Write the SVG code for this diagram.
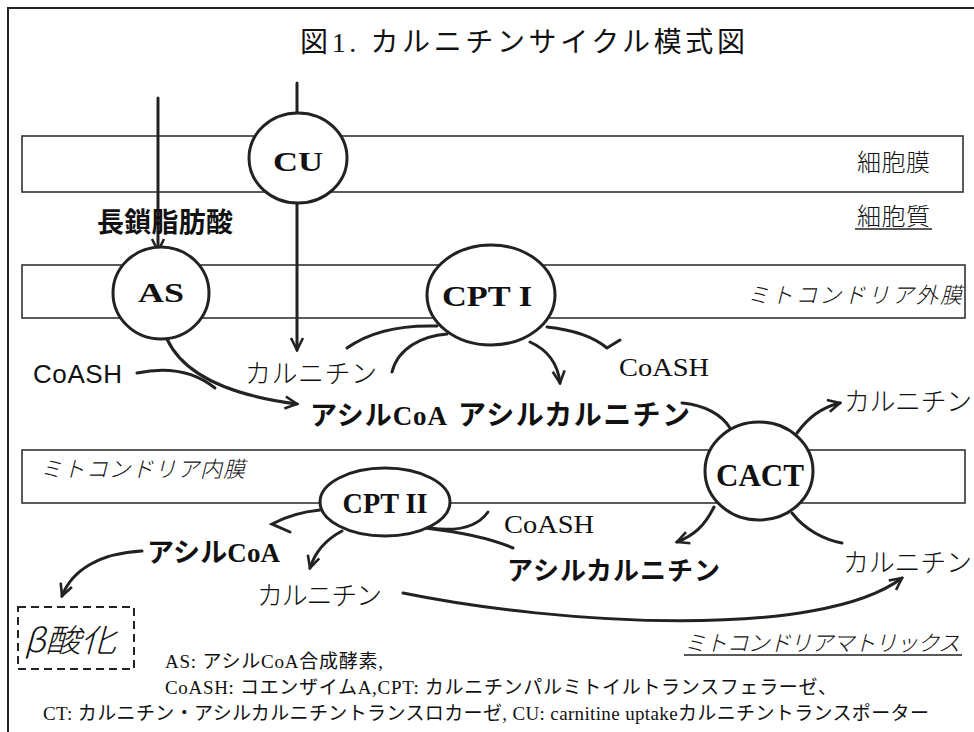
<svg xmlns="http://www.w3.org/2000/svg" width="974" height="732" viewBox="0 0 974 732">
<style>
.mem{fill:#fff;stroke:#333;stroke-width:1.6}
.node{fill:#fff;stroke:#222;stroke-width:3}
.c{fill:none;stroke:#222;stroke-width:3;stroke-linecap:round}
.ca{fill:none;stroke:#222;stroke-width:3;stroke-linecap:round;marker-end:url(#arr)}
.nl{font-family:"Liberation Serif","Noto Sans CJK JP",serif;font-weight:bold;fill:#111;text-anchor:middle}
.bs{font-family:"Liberation Serif","Noto Sans CJK JP",serif;font-weight:bold;fill:#111}
.js{font-family:"Noto Sans CJK JP",sans-serif;font-weight:300;fill:#111}
.it{font-family:"Noto Sans CJK JP",sans-serif;font-style:italic;font-weight:300;fill:#111}
.sr{font-family:"Liberation Serif","Noto Sans CJK JP",serif;fill:#111}
</style>
<defs>
<marker id="arr" viewBox="0 0 16 16" refX="14" refY="8" markerWidth="16" markerHeight="16" markerUnits="userSpaceOnUse" orient="auto">
<path d="M2,2 L14,8 L2,14" fill="none" stroke="#222" stroke-width="2.6" stroke-linejoin="miter"/>
</marker>
</defs>
<rect x="0" y="0" width="974" height="732" fill="#fff"/>
<rect x="8" y="8" width="990" height="760" fill="none" stroke="#222" stroke-width="2"/>

<g id="title"><text class="sr" x="300" y="52" font-size="28" textLength="445">図1. カルニチンサイクル模式図</text></g>

<g id="membranes">
<rect id="cell-membrane" class="mem" x="22" y="136" width="941" height="56"/>
<rect id="outer-membrane" class="mem" x="22" y="265" width="943" height="53"/>
<rect id="inner-membrane" class="mem" x="22" y="450" width="943" height="53"/>
</g>

<g id="connectors">
<path class="ca" d="M158,98 L158,251"/>
<path class="c" d="M297,83 L297,113"/>
<path class="ca" d="M297,203 L297,350"/>
<path class="ca" d="M167,339 C185,378 235,396 297,404"/>
<path class="c" d="M137,373 C170,366 195,372 215,388"/>
<path class="c" d="M347,348 C372,330 405,325 437,326"/>
<path class="c" d="M392,372 C398,348 422,336 447,334"/>
<path class="ca" d="M530,342 C548,350 558,365 560,383"/>
<path class="c" d="M547,327 C575,330 595,338 607,348 L620,340"/>
<path class="c" d="M682,403 C705,405 722,415 730,428"/>
<path class="ca" d="M797,433 C808,418 820,408 840,403"/>
<path class="ca" d="M714,507 C705,525 695,535 677,542"/>
<path class="c" d="M792,513 C805,530 825,540 842,543"/>
<path class="c" d="M320,510 C300,512 285,517 272,524 L290,532"/>
<path class="ca" d="M342,531 C325,540 315,552 310,568"/>
<path class="c" d="M430,528 C458,532 478,526 488,512"/>
<path class="c" d="M513,548 C490,538 460,532 425,528"/>
<path class="ca" d="M142,551 C100,553 72,570 62,596"/>
<path class="ca" d="M403,593 C560,625 820,640 902,578"/>
</g>

<g id="CU"><ellipse class="node" cx="298" cy="158" rx="49" ry="45"/><text class="nl" x="298" y="171" font-size="28" textLength="50" lengthAdjust="spacingAndGlyphs">CU</text></g>
<g id="AS"><ellipse class="node" cx="161" cy="293" rx="48" ry="46"/><text class="nl" x="161" y="302" font-size="28" textLength="46" lengthAdjust="spacingAndGlyphs">AS</text></g>
<g id="CPTI"><ellipse class="node" cx="491" cy="295" rx="64" ry="50"/><text class="nl" x="487" y="306" font-size="29" textLength="90" lengthAdjust="spacingAndGlyphs">CPT I</text></g>
<g id="CACT"><ellipse class="node" cx="759" cy="471" rx="54" ry="49"/><text class="nl" x="760" y="486" font-size="32" textLength="88" lengthAdjust="spacingAndGlyphs">CACT</text></g>
<g id="CPTII"><ellipse class="node" cx="385" cy="502" rx="65" ry="34"/><text class="nl" x="385" y="513" font-size="29" textLength="85" lengthAdjust="spacingAndGlyphs">CPT II</text></g>

<g id="labels">
<text class="js" x="857" y="171" font-size="24" textLength="73">細胞膜</text>
<text class="js" x="857" y="225" font-size="24" textLength="73">細胞質</text>
<line x1="855" y1="229" x2="932" y2="229" stroke="#222" stroke-width="1.6"/>
<text x="97" y="232" font-size="27" textLength="136" font-family="Noto Sans CJK JP,sans-serif" font-weight="bold" fill="#111">長鎖脂肪酸</text>
<text class="it" x="747" y="303" font-size="22" textLength="215">ミトコンドリア外膜</text>
<text class="it" x="40" y="477" font-size="22" textLength="205">ミトコンドリア内膜</text>
<text class="js" x="245" y="383" font-size="26" textLength="132">カルニチン</text>
<text x="33" y="383" font-size="26" textLength="89" font-family="Liberation Sans,sans-serif" fill="#111">CoASH</text>
<text class="bs" x="310" y="425" font-size="27" textLength="137">アシルCoA</text>
<text class="bs" x="458" y="425" font-size="28" textLength="232">アシルカルニチン</text>
<text class="sr" x="619" y="376" font-size="25" textLength="90" lengthAdjust="spacingAndGlyphs">CoASH</text>
<text class="js" x="844" y="411" font-size="26" textLength="128">カルニチン</text>
<text class="sr" x="504" y="533" font-size="25" textLength="90" lengthAdjust="spacingAndGlyphs">CoASH</text>
<text class="bs" x="507" y="580" font-size="26" textLength="213">アシルカルニチン</text>
<text class="js" x="843" y="572" font-size="26" textLength="129">カルニチン</text>
<text class="bs" x="147" y="562" font-size="27" textLength="133">アシルCoA</text>
<text class="js" x="257" y="605" font-size="26" textLength="125">カルニチン</text>
<text class="it" x="684" y="651" font-size="22" textLength="276">ミトコンドリアマトリックス</text>
<line x1="684" y1="655" x2="962" y2="655" stroke="#222" stroke-width="1.6"/>
</g>

<g id="beta-oxidation">
<rect x="18" y="607" width="116" height="62" fill="none" stroke="#222" stroke-width="2" stroke-dasharray="8,5"/>
<text class="it" x="24" y="652" font-size="32" textLength="92" lengthAdjust="spacingAndGlyphs" font-weight="normal">β酸化</text>
</g>

<g id="legend">
<text class="sr" x="165" y="668" font-size="19" textLength="218">AS: アシルCoA合成酵素,</text>
<text class="sr" x="165" y="694" font-size="19" textLength="672">CoASH: コエンザイムA,CPT: カルニチンパルミトイルトランスフェラーゼ、</text>
<text class="sr" x="43" y="720" font-size="19" textLength="886">CT: カルニチン・アシルカルニチントランスロカーゼ, CU: carnitine uptakeカルニチントランスポーター</text>
</g>
</svg>
